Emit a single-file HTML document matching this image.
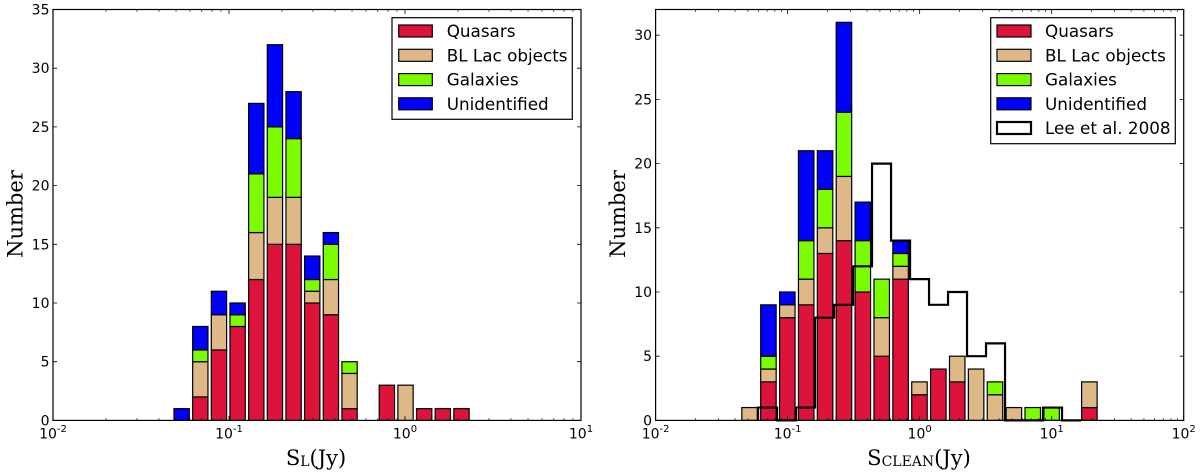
<!DOCTYPE html>
<html>
<head>
<meta charset="utf-8">
<style>
html,body{margin:0;padding:0;background:#fff;width:1200px;height:472px;overflow:hidden}
svg{display:block}
text{font-family:"DejaVu Sans","Liberation Sans",sans-serif;fill:#000}
.serif{font-family:"DejaVu Serif","Liberation Serif",serif}
</style>
</head>
<body>
<svg id="figure" xmlns="http://www.w3.org/2000/svg" width="1200" height="472" viewBox="0 0 1200 472">
  <g id="left-panel"></g>
  <g id="right-panel"></g>

  <text class="serif" transform="translate(22.5,214) rotate(-90)" text-anchor="middle" font-size="21">Number</text>
  <text class="serif" transform="translate(625,214) rotate(-90)" text-anchor="middle" font-size="21">Number</text>
  <text class="serif" x="316" y="465" text-anchor="middle" font-size="21">S<tspan font-size="14" dy="1">L</tspan><tspan dy="-1">(Jy)</tspan></text>
  <text class="serif" x="919" y="465" text-anchor="middle" font-size="21">S<tspan font-size="14" dy="1">CLEAN</tspan><tspan dy="-1">(Jy)</tspan></text>

  <g>
    <rect x="392" y="17.7" width="180.3" height="101.6" fill="#fff" stroke="#000" stroke-width="1.2"/>
    <rect x="398.7" y="25" width="33.6" height="12" fill="#DC143C" stroke="#000" stroke-width="1.2"/>
    <text x="446.7" y="37" font-size="16.8">Quasars</text>
    <rect x="398.7" y="49.3" width="33.6" height="12" fill="#DEB887" stroke="#000" stroke-width="1.2"/>
    <text x="446.7" y="61.3" font-size="16.8">BL Lac objects</text>
    <rect x="398.7" y="73.6" width="33.6" height="12" fill="#7CFC00" stroke="#000" stroke-width="1.2"/>
    <text x="446.7" y="85.6" font-size="16.8">Galaxies</text>
    <rect x="398.7" y="97.8" width="33.6" height="12" fill="#0000FF" stroke="#000" stroke-width="1.2"/>
    <text x="446.7" y="109.8" font-size="16.8">Unidentified</text>
  </g>

  <g>
    <rect x="990.7" y="17.7" width="184.6" height="126" fill="#fff" stroke="#000" stroke-width="1.2"/>
    <rect x="997" y="25" width="34" height="12" fill="#DC143C" stroke="#000" stroke-width="1.2"/>
    <text x="1045" y="37" font-size="16.8">Quasars</text>
    <rect x="997" y="49.3" width="34" height="12" fill="#DEB887" stroke="#000" stroke-width="1.2"/>
    <text x="1045" y="61.3" font-size="16.8">BL Lac objects</text>
    <rect x="997" y="73.6" width="34" height="12" fill="#7CFC00" stroke="#000" stroke-width="1.2"/>
    <text x="1045" y="85.6" font-size="16.8">Galaxies</text>
    <rect x="997" y="97.8" width="34" height="12" fill="#0000FF" stroke="#000" stroke-width="1.2"/>
    <text x="1045" y="109.8" font-size="16.8">Unidentified</text>
    <rect x="997" y="122" width="34" height="12" fill="#fff" stroke="#000" stroke-width="2.2"/>
    <text x="1045" y="134" font-size="16.8">Lee et al. 2008</text>
  </g>
</svg>
<script>
// Left panel: counts per log-spaced flux bin
const leftQuasars      = [0, 2, 6, 8, 12, 15, 15, 10, 9, 1, 0, 3, 0, 1, 1, 1];
const leftBlLac        = [0, 3, 3, 0, 4, 4, 4, 1, 3, 3, 0, 0, 3, 0, 0, 0];
const leftGalaxies     = [0, 1, 0, 1, 5, 6, 5, 1, 3, 1, 0, 0, 0, 0, 0, 0];
const leftUnidentified = [1, 2, 2, 1, 6, 7, 4, 2, 1, 0, 0, 0, 0, 0, 0, 0];
const leftFirstBinLog = -1.3125;
const leftBinLogWidth = 0.106;

// Right panel: counts per log-spaced flux bin
const rightQuasars      = [0, 3, 8, 9, 13, 14, 10, 5, 11, 2, 4, 3, 0, 0, 0, 0, 0, 0, 1];
const rightBlLac        = [1, 1, 1, 2, 2, 5, 0, 3, 1, 1, 0, 2, 4, 2, 1, 0, 0, 0, 2];
const rightGalaxies     = [0, 1, 0, 3, 3, 5, 4, 3, 1, 0, 0, 0, 0, 1, 0, 1, 1, 0, 0];
const rightUnidentified = [0, 4, 1, 7, 3, 7, 3, 0, 1, 0, 0, 0, 0, 0, 0, 0, 0, 0, 0];
const rightFirstBinLog = -1.347;
const rightBinLogWidth = 0.143;

// Lee et al. 2008 step histogram
const leeCounts = [1, 0, 1, 8, 9, 12, 20, 14, 11, 9, 10, 5, 6, 0, 0, 1, 0];
const leeFirstBinLog = -1.224;
const leeBinLogWidth = 0.1439;

// Axis ticks
const leftYTicks = [0, 5, 10, 15, 20, 25, 30, 35];
const rightYTicks = [0, 5, 10, 15, 20, 25, 30];
const leftXDecades = [-2, -1, 0, 1];
const rightXDecades = [-2, -1, 0, 1, 2];
const minorMultipliers = [2, 3, 4, 5, 6, 7, 8, 9];

const SVGNS = 'http://www.w3.org/2000/svg';
const barFraction = 0.82;
const seriesFills = ['#DC143C', '#DEB887', '#7CFC00', '#0000FF'];
const seriesNames = ['quasars', 'bl-lac', 'galaxies', 'unidentified'];

function make(tag, parent, attrs) {
  const el = document.createElementNS(SVGNS, tag);
  for (const k in attrs) el.setAttribute(k, attrs[k]);
  parent.appendChild(el);
  return el;
}

function drawPanel(cfg) {
  const g = document.getElementById(cfg.id);
  const x = v => cfg.left + (v - cfg.logMin) / (cfg.logMax - cfg.logMin) * (cfg.right - cfg.left);
  const y = v => cfg.bottom - v / cfg.yMax * (cfg.bottom - cfg.top);

  // bars
  cfg.series.forEach((vals, s) => {
    vals.forEach((v, i) => {
      if (!v) return;
      let base = 0;
      for (let k = 0; k < s; k++) base += cfg.series[k][i];
      const l = cfg.first + i * cfg.step;
      const x0 = x(l), x1 = x(l + cfg.step * barFraction);
      const r = make('rect', g, {
        x: x0, y: y(base + v), width: x1 - x0, height: y(base) - y(base + v),
        fill: seriesFills[s], stroke: '#000', 'stroke-width': 1.2
      });
      
      
    });
  });

  // optional step line
  if (cfg.steps) {
    let d = 'M' + x(cfg.stepFirst) + ' ' + y(0);
    cfg.steps.forEach((v, i) => {
      d += ' L' + x(cfg.stepFirst + i * cfg.stepWidth) + ' ' + y(v);
      d += ' L' + x(cfg.stepFirst + (i + 1) * cfg.stepWidth) + ' ' + y(v);
    });
    d += ' L' + x(cfg.stepFirst + cfg.steps.length * cfg.stepWidth) + ' ' + y(0);
    const line = make('path', g, { d: d, fill: 'none', stroke: '#000', 'stroke-width': 2.2 });
    
    
  }

  // y ticks and labels
  cfg.yTicks.forEach(t => {
    const yy = y(t);
    const tl = make('path', g, {
      d: 'M' + cfg.left + ' ' + yy + ' h4 M' + cfg.right + ' ' + yy + ' h-4',
      stroke: '#000', 'stroke-width': 0.8, fill: 'none'
    });
    
    
    const lb = make('text', g, { x: cfg.left - 3.5, y: yy + 5, 'text-anchor': 'end', 'font-size': 14 });
    lb.textContent = String(t);
    
    
  });

  // x ticks and labels
  cfg.xDecades.forEach(dec => {
    const xx = x(dec);
    const tl = make('path', g, {
      d: 'M' + xx + ' ' + cfg.bottom + ' v-4.5 M' + xx + ' ' + cfg.top + ' v4.5',
      stroke: '#000', 'stroke-width': 0.8, fill: 'none'
    });
    
    
    const lb = make('text', g, { x: xx, y: 438.7, 'text-anchor': 'middle', 'font-size': 14 });
    
    
    const base = make('tspan', lb, {});
    base.textContent = '10';
    const sup = make('tspan', lb, { 'font-size': 10, dy: -6.5 });
    sup.textContent = String(dec);
    if (dec < cfg.logMax) {
      minorMultipliers.forEach(m => {
        const mx = x(dec + Math.log10(m));
        const mt = make('path', g, {
          d: 'M' + mx + ' ' + cfg.bottom + ' v-2.2 M' + mx + ' ' + cfg.top + ' v2.2',
          stroke: '#000', 'stroke-width': 0.7, fill: 'none'
        });
        
        
      });
    }
  });

  // frame
  const frame = make('rect', g, {
    x: cfg.left, y: cfg.top, width: cfg.right - cfg.left, height: cfg.bottom - cfg.top,
    fill: 'none', stroke: '#000', 'stroke-width': 1.2
  });
  
  
}

drawPanel({
  id: 'left-panel', left: 53, right: 581, top: 9.5, bottom: 420.4,
  logMin: -2, logMax: 1, yMax: 35,
  series: [leftQuasars, leftBlLac, leftGalaxies, leftUnidentified],
  first: leftFirstBinLog, step: leftBinLogWidth,
  yTicks: leftYTicks, xDecades: leftXDecades
});

drawPanel({
  id: 'right-panel', left: 655.6, right: 1183.7, top: 9.5, bottom: 420.4,
  logMin: -2, logMax: 2, yMax: 32,
  series: [rightQuasars, rightBlLac, rightGalaxies, rightUnidentified],
  first: rightFirstBinLog, step: rightBinLogWidth,
  steps: leeCounts, stepFirst: leeFirstBinLog, stepWidth: leeBinLogWidth,
  yTicks: rightYTicks, xDecades: rightXDecades
});
</script>
</body>
</html>
